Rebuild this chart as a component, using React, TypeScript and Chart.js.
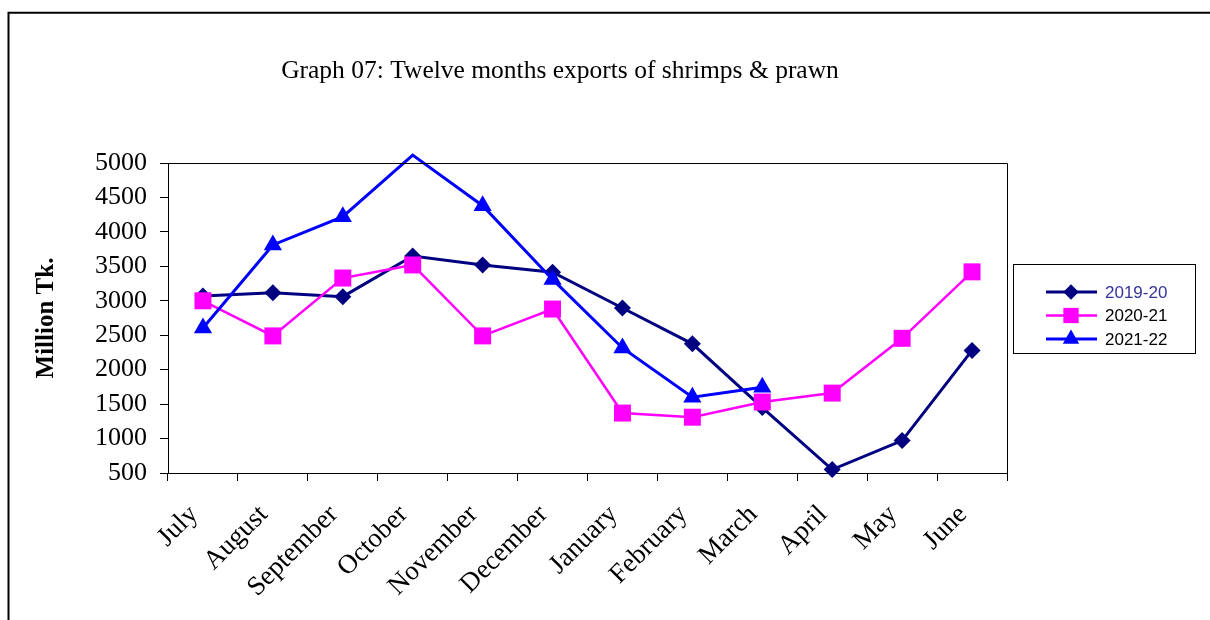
import React, { useEffect, useRef } from 'react';
import { Chart, registerables } from 'chart.js';

Chart.register(...registerables);

const titleText = 'Graph 07: Twelve months exports of shrimps & prawn';
const yAxisTitle = 'Million Tk.';
const months = ['July', 'August', 'September', 'October', 'November', 'December', 'January', 'February', 'March', 'April', 'May', 'June'];
const seriesLabels = ['2019-20', '2020-21', '2021-22'];
const values1920 = [3070, 3115, 3060, 3650, 3520, 3415, 2895, 2375, 1450, 550, 970, 2280];
const values2021 = [3000, 2490, 3330, 3520, 2490, 2880, 1370, 1310, 1530, 1660, 2455, 3420];
const values2122 = [2605, 3810, 4220, 5115, 4380, 3310, 2315, 1600, 1745, null, null, null];
const yMin = 500;
const yMax = 5000;
const yStep = 500;

const colors = ['#000080', '#FF00FF', '#0000FF'];
const legendTextColors = ['#333399', '#000000', '#000000'];
const pointStyles = ['rectRot', 'rect', 'triangle'];
const pointRadii = [8.5, 12, 10.5];
const lineWidths = [3, 2.5, 3];

function drawMarker(ctx: CanvasRenderingContext2D, style: string, x: number, y: number, r: number) {
  ctx.beginPath();
  if (style === 'rectRot') {
    ctx.moveTo(x, y - r);
    ctx.lineTo(x + r, y);
    ctx.lineTo(x, y + r);
    ctx.lineTo(x - r, y);
  } else if (style === 'rect') {
    const s = Math.SQRT1_2 * r;
    ctx.rect(x - s, y - s, 2 * s, 2 * s);
  } else {
    ctx.moveTo(x, y - r);
    ctx.lineTo(x + r * Math.sin((2 * Math.PI) / 3), y - r * Math.cos((2 * Math.PI) / 3));
    ctx.lineTo(x + r * Math.sin((4 * Math.PI) / 3), y - r * Math.cos((4 * Math.PI) / 3));
  }
  ctx.closePath();
  ctx.fill();
}

const decorPlugin = {
  id: 'decor',
  beforeDraw(chart: any) {
    const ctx = chart.ctx as CanvasRenderingContext2D;
    ctx.save();
    ctx.fillStyle = '#ffffff';
    ctx.fillRect(0, 0, chart.width, chart.height);
    ctx.restore();
  },
  afterDraw(chart: any) {
    const ctx = chart.ctx as CanvasRenderingContext2D;
    const area = chart.chartArea;
    ctx.save();
    // outer frame
    ctx.strokeStyle = '#000000';
    ctx.lineWidth = 2;
    ctx.beginPath();
    ctx.moveTo(8.5, 700);
    ctx.lineTo(8.5, 12.7);
    ctx.lineTo(1300, 12.7);
    ctx.stroke();
    // plot border (top/right)
    ctx.lineWidth = 1;
    ctx.beginPath();
    ctx.moveTo(Math.round(area.left) + 0.5, Math.round(area.top) + 0.5);
    ctx.lineTo(Math.round(area.right) + 0.5, Math.round(area.top) + 0.5);
    ctx.lineTo(Math.round(area.right) + 0.5, Math.round(area.bottom) + 0.5);
    ctx.stroke();
    // title
    ctx.fillStyle = '#000000';
    ctx.font = '25.5px "Liberation Serif", "Times New Roman", serif';
    ctx.textAlign = 'center';
    ctx.textBaseline = 'alphabetic';
    ctx.fillText(titleText, 560, 78);
    // legend box
    ctx.lineWidth = 1;
    ctx.strokeStyle = '#000000';
    ctx.strokeRect(1013.5, 264.5, 182, 89);
    ctx.font = '17px "Liberation Sans", Arial, sans-serif';
    ctx.textAlign = 'left';
    ctx.textBaseline = 'middle';
    chart.data.datasets.forEach((ds: any, i: number) => {
      const y = 292 + i * 23.5;
      ctx.strokeStyle = ds.borderColor;
      ctx.lineWidth = ds.borderWidth;
      ctx.beginPath();
      ctx.moveTo(1046, y);
      ctx.lineTo(1097, y);
      ctx.stroke();
      ctx.fillStyle = ds.borderColor;
      drawMarker(ctx, pointStyles[i], 1071, y, pointRadii[i] * 0.9);
      ctx.fillStyle = legendTextColors[i];
      ctx.fillText(ds.label, 1105, y + 1);
    });
    ctx.restore();
  },
};

export default function App() {
  const canvasRef = useRef<HTMLCanvasElement | null>(null);

  useEffect(() => {
    const canvas = canvasRef.current;
    if (!canvas) return;
    const seriesValues = [values1920, values2021, values2122];
    const chart = new Chart(canvas, {
      type: 'line',
      data: {
        labels: months,
        datasets: seriesValues.map((vals, i) => ({
          label: seriesLabels[i],
          data: vals,
          borderColor: colors[i],
          backgroundColor: colors[i],
          pointBackgroundColor: colors[i],
          pointBorderColor: colors[i],
          borderWidth: lineWidths[i],
          pointStyle: pointStyles[i] as any,
          pointRadius: (c: any) => (c.raw != null && c.raw > yMax ? 0 : pointRadii[i]),
          pointBorderWidth: 0,
          pointHoverRadius: pointRadii[i],
          tension: 0,
          spanGaps: false,
          clip: false as any,
          order: 3 - i,
        })),
      },
      options: {
        responsive: false,
        animation: false,
        devicePixelRatio: 1,
        layout: { padding: { top: 163, left: 0, right: 203, bottom: 0 } },
        plugins: {
          legend: { display: false },
          title: { display: false },
          tooltip: { enabled: false },
        },
        scales: {
          x: {
            type: 'category',
            offset: true,
            afterFit: (scale: any) => {
              scale.height = 147;
            },
            grid: {
              offset: true,
              drawOnChartArea: false,
              drawTicks: true,
              tickLength: 8,
              color: '#000000',
              lineWidth: 1,
            },
            border: { display: true, color: '#000000', width: 1 },
            ticks: {
              autoSkip: false,
              maxRotation: 45,
              minRotation: 45,
              padding: 18,
              labelOffset: -9,
              color: '#000000',
              font: { family: '"Liberation Serif", "Times New Roman", serif', size: 27 },
            },
          },
          y: {
            min: yMin,
            max: yMax,
            afterFit: (scale: any) => {
              scale.width = 168;
            },
            afterBuildTicks: (scale: any) => {
              const t = [];
              for (let v = yMin; v <= yMax; v += yStep) t.push({ value: v });
              scale.ticks = t;
            },
            grid: {
              drawOnChartArea: false,
              drawTicks: true,
              tickLength: 8,
              color: '#000000',
              lineWidth: 1,
            },
            border: { display: true, color: '#000000', width: 1 },
            ticks: {
              stepSize: yStep,
              padding: 13,
              color: '#000000',
              callback: (v: any) => String(v),
              font: { family: '"Liberation Serif", "Times New Roman", serif', size: 26 },
            },
            title: {
              display: true,
              text: yAxisTitle,
              color: '#000000',
              padding: { top: 32, bottom: 0 },
              font: { family: '"Liberation Serif", "Times New Roman", serif', size: 25, weight: 'bold' },
            },
          },
        },
      },
      plugins: [decorPlugin],
    });
    return () => chart.destroy();
  }, []);

  return (
    <div style={{ position: 'fixed', left: 0, top: 0, width: 1210, height: 620, background: '#fff' }}>
      <canvas ref={canvasRef} width={1210} height={620} style={{ display: 'block', width: 1210, height: 620 }} />
    </div>
  );
}
